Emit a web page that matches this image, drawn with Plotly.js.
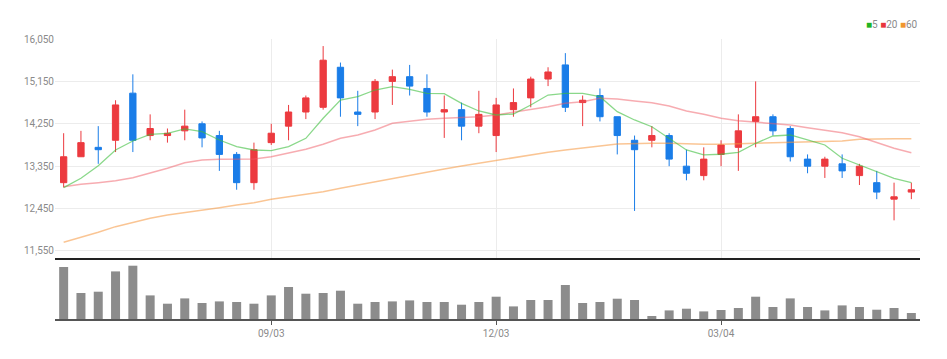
<!DOCTYPE html>
<html>
<head>
<meta charset="utf-8">
<script src="https://cdn.plot.ly/plotly-3.0.1.min.js"></script>
<style>
html,body{margin:0;padding:0;background:#fff;}
#chart{width:947px;height:359px;}
</style>
</head>
<body>
<div id="chart"></div>
<script>
// Weekly dates
var dates = ["2018-06-11","2018-06-18","2018-06-25","2018-07-02","2018-07-09","2018-07-16","2018-07-23","2018-07-30","2018-08-06","2018-08-13",
"2018-08-20","2018-08-27","2018-09-03","2018-09-10","2018-09-17","2018-09-24","2018-10-01","2018-10-08","2018-10-15","2018-10-22",
"2018-10-29","2018-11-05","2018-11-12","2018-11-19","2018-11-26","2018-12-03","2018-12-10","2018-12-17","2018-12-24","2018-12-31",
"2019-01-07","2019-01-14","2019-01-21","2019-01-28","2019-02-04","2019-02-11","2019-02-18","2019-02-25","2019-03-04","2019-03-11",
"2019-03-18","2019-03-25","2019-04-01","2019-04-08","2019-04-15","2019-04-22","2019-04-29","2019-05-06","2019-05-13","2019-05-20"];

var openP  = [13000,13550,13750,13900,14900,14000,14000,14100,14250,14000,
              13600,13000,13850,14200,14500,14600,15450,14500,14500,15150,
              15250,15000,14500,14550,14200,14000,14550,14800,15200,15500,
              14700,14850,14400,13900,13900,14000,13350,13150,13600,13750,
              14300,14400,14150,13500,13350,13400,13150,13000,12650,12800];
var highP  = [14050,14100,14200,14750,15300,14450,14150,14550,14300,14100,
              13650,13850,14250,14650,14850,15900,15550,14950,15200,15400,
              15500,15300,14850,14700,14950,14800,15000,15250,15450,15750,
              14850,15000,14400,14000,14200,14050,13700,13750,13900,14450,
              15150,14450,14200,13600,13550,13600,13400,13250,13000,13000];
var lowP   = [12900,13550,13400,13650,13650,13900,13850,13900,13750,13250,
              12850,12850,13800,13900,14350,14550,14400,14200,14350,14650,
              14850,14400,13950,13900,14050,13650,14400,14600,15050,14500,
              14200,14300,13600,12400,13750,13350,13050,13050,13350,13250,
              13750,14000,13450,13200,13100,13100,12950,12650,12200,12650];
var closeP = [13550,13850,13700,14650,13900,14150,14050,14200,13950,13600,
              13000,13700,14050,14500,14800,15600,14800,14450,15150,15250,
              15050,14500,14550,14200,14450,14650,14700,15200,15350,14600,
              14750,14400,14000,13700,14000,13500,13200,13500,13800,14100,
              14400,14100,13550,13350,13500,13250,13350,12800,12700,12850];

var ma5  = [12894,13093,13361,13694,13885,14027,14048,14140,14082,13906,
            13764,13694,13680,13764,13942,14367,14755,14825,14967,15038,
            14982,14897,14889,14685,14522,14437,14458,14649,14861,14897,
            14897,14825,14507,14331,14188,13942,13694,13588,13603,13645,
            13836,13991,14012,13906,13800,13518,13376,13233,13093,13000];
var ma20 = [12915,12966,13000,13042,13106,13199,13305,13424,13482,13497,
            13503,13503,13552,13624,13709,13815,13942,14012,14118,14261,
            14310,14346,14367,14380,14401,14437,14494,14564,14613,14685,
            14719,14791,14776,14734,14698,14628,14522,14452,14367,14316,
            14282,14252,14225,14167,14118,14061,13976,13857,13730,13637];
var ma60 = [11735,11833,11947,12066,12159,12244,12314,12363,12410,12469,
            12526,12575,12647,12703,12760,12809,12881,12951,13021,13093,
            13163,13221,13291,13354,13412,13482,13531,13588,13645,13694,
            13743,13779,13821,13836,13836,13836,13821,13815,13815,13821,
            13836,13849,13857,13857,13870,13885,13921,13934,13934,13934];

var volume = [520,260,273,476,533,236,153,206,160,176,
              170,153,236,320,253,260,283,153,170,176,
              186,170,170,143,170,223,126,190,190,340,
              160,170,203,190,30,86,103,76,90,110,
              223,120,206,120,86,136,120,93,110,60];

var priceTicks = [11550,12450,13350,14250,15150,16050];
var dateTickVals = ["2018-09-03","2018-12-03","2019-03-04"];
var dateTickText = ["09/03","12/03","03/04"];

var UP = '#ec3a3f', DOWN = '#1a7de8';
var FONT = 'Liberation Sans Narrow, Roboto, Lato, sans-serif';

var traces = [
  {type:'candlestick', x:dates, open:openP, high:highP, low:lowP, close:closeP,
   xaxis:'x', yaxis:'y', whiskerwidth:0,
   increasing:{line:{color:UP,width:1}, fillcolor:UP},
   decreasing:{line:{color:DOWN,width:1}, fillcolor:DOWN},
   showlegend:false, hoverinfo:'skip'},
  {type:'scatter', mode:'lines', x:dates, y:ma60, xaxis:'x', yaxis:'y',
   line:{color:'rgba(245,150,60,0.55)', width:1.5}, showlegend:false, hoverinfo:'skip'},
  {type:'scatter', mode:'lines', x:dates, y:ma20, xaxis:'x', yaxis:'y',
   line:{color:'rgba(240,90,100,0.5)', width:1.5}, showlegend:false, hoverinfo:'skip'},
  {type:'scatter', mode:'lines', x:dates, y:ma5, xaxis:'x', yaxis:'y',
   line:{color:'rgba(60,190,60,0.6)', width:1.3}, showlegend:false, hoverinfo:'skip'},
  {type:'bar', x:dates, y:volume, xaxis:'x2', yaxis:'y2',
   marker:{color:'#8c8c8c', line:{width:0}}, showlegend:false, hoverinfo:'skip'}
];

var layout = {
  width:947, height:359,
  margin:{l:55, r:27, t:39, b:40},
  paper_bgcolor:'#ffffff', plot_bgcolor:'#ffffff',
  boxgap:0.48, bargap:0.48,
  font:{family:FONT, size:10, color:'#8a8a8a'},
  xaxis:{type:'category', anchor:'y', domain:[0,1], range:[-0.5,49.5],
         rangeslider:{visible:false}, showticklabels:false,
         tickmode:'array', tickvals:dateTickVals, ticktext:dateTickText,
         showgrid:true, gridcolor:'#ececec', gridwidth:1,
         showline:true, linecolor:'#222', linewidth:2, zeroline:false, ticks:''},
  yaxis:{domain:[0.2179,1], range:[11401,16050], tickmode:'array', tickvals:priceTicks,
         tickformat:',', showgrid:true, gridcolor:'#ececec', gridwidth:1,
         zeroline:false, showline:false, ticks:'', ticklen:0,
         tickfont:{family:FONT, size:10, color:'#8a8a8a'}},
  xaxis2:{type:'category', anchor:'y2', domain:[0,1], matches:'x', range:[-0.5,49.5],
          tickmode:'array', tickvals:dateTickVals, ticktext:dateTickText,
          showgrid:false, showline:true, linecolor:'#555', linewidth:2,
          ticks:'outside', ticklen:4, tickcolor:'#555', tickwidth:1, zeroline:false,
          tickfont:{family:FONT, size:10, color:'#8a8a8a'}},
  yaxis2:{domain:[0,0.2], range:[0,560], showgrid:false, showticklabels:false,
          zeroline:false, showline:false, ticks:''},
  annotations:[
    {xref:'paper', yref:'paper', x:1.0, y:1.05, xanchor:'right', yanchor:'middle', showarrow:false,
     text:'<span style="color:#22b322">■</span>5 <span style="color:#e8353b">■</span>20 <span style="color:#f0962e">■</span>60',
     font:{family:FONT, size:10, color:'#8a8a8a'}}
  ]
};

Plotly.newPlot('chart', traces, layout, {displayModeBar:false, staticPlot:true});
</script>
</body>
</html>
